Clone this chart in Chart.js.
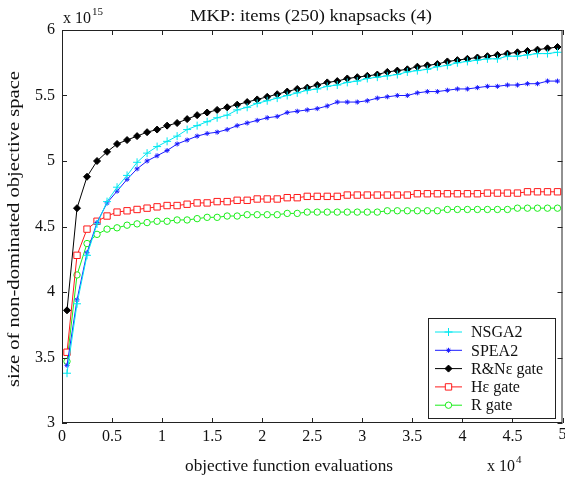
<!DOCTYPE html>
<html>
<head>
<meta charset="utf-8">
<script src="https://cdn.jsdelivr.net/npm/chart.js@4.4.0/dist/chart.umd.min.js"></script>
<style>
  html, body { margin: 0; background: #fff; overflow: hidden; }
  #wrap { width: 565px; height: 482px; overflow: hidden; }
</style>
</head>
<body>
<div id="wrap"><canvas id="myChart" width="568" height="482"></canvas></div>
<script>
// DATA (x in units of 10^4 evaluations, y in units of 10^15)
const evals = [0.05, 0.15, 0.25, 0.35, 0.45, 0.55, 0.65, 0.75, 0.85, 0.95,
    1.05, 1.15, 1.25, 1.35, 1.45, 1.55, 1.65, 1.75, 1.85, 1.95,
    2.05, 2.15, 2.25, 2.35, 2.45, 2.55, 2.65, 2.75, 2.85, 2.95,
    3.05, 3.15, 3.25, 3.35, 3.45, 3.55, 3.65, 3.75, 3.85, 3.95,
    4.05, 4.15, 4.25, 4.35, 4.45, 4.55, 4.65, 4.75, 4.85, 4.95];
const nsga2 = [3.38, 3.91, 4.28, 4.52, 4.69, 4.80, 4.89, 4.99, 5.06, 5.11,
    5.15, 5.19, 5.24, 5.27, 5.30, 5.33, 5.35, 5.39, 5.41, 5.44,
    5.46, 5.48, 5.50, 5.52, 5.54, 5.55, 5.57, 5.58, 5.60, 5.61,
    5.63, 5.64, 5.65, 5.66, 5.68, 5.69, 5.70, 5.72, 5.73, 5.75,
    5.76, 5.77, 5.78, 5.78, 5.80, 5.80, 5.81, 5.82, 5.82, 5.83];
const spea2 = [3.44, 3.94, 4.30, 4.53, 4.68, 4.77, 4.86, 4.94, 5.00, 5.04,
    5.08, 5.13, 5.16, 5.19, 5.21, 5.22, 5.24, 5.27, 5.29, 5.31,
    5.33, 5.34, 5.37, 5.38, 5.39, 5.40, 5.42, 5.45, 5.45, 5.45,
    5.46, 5.48, 5.49, 5.50, 5.50, 5.52, 5.53, 5.53, 5.54, 5.55,
    5.55, 5.56, 5.57, 5.57, 5.58, 5.58, 5.59, 5.59, 5.61, 5.61];
const rneGate = [3.86, 4.64, 4.88, 5.00, 5.07, 5.13, 5.16, 5.19, 5.22, 5.24,
    5.27, 5.29, 5.32, 5.35, 5.37, 5.39, 5.41, 5.43, 5.45, 5.47,
    5.49, 5.51, 5.53, 5.55, 5.56, 5.58, 5.60, 5.61, 5.63, 5.64,
    5.65, 5.66, 5.68, 5.69, 5.70, 5.72, 5.73, 5.74, 5.76, 5.77,
    5.78, 5.79, 5.80, 5.81, 5.82, 5.83, 5.84, 5.85, 5.86, 5.87];
const heGate = [3.54, 4.28, 4.48, 4.54, 4.58, 4.61, 4.62, 4.63, 4.64, 4.65,
    4.66, 4.66, 4.67, 4.68, 4.68, 4.69, 4.69, 4.70, 4.70, 4.71,
    4.71, 4.71, 4.72, 4.72, 4.73, 4.73, 4.73, 4.73, 4.74, 4.74,
    4.74, 4.74, 4.74, 4.74, 4.74, 4.75, 4.75, 4.75, 4.75, 4.75,
    4.75, 4.75, 4.755, 4.755, 4.755, 4.755, 4.765, 4.765, 4.765, 4.765];
const rGate = [3.47, 4.13, 4.37, 4.44, 4.48, 4.49, 4.51, 4.52, 4.53, 4.54,
    4.54, 4.55, 4.55, 4.56, 4.57, 4.57, 4.58, 4.58, 4.59, 4.59,
    4.59, 4.59, 4.60, 4.60, 4.61, 4.61, 4.61, 4.61, 4.61, 4.61,
    4.61, 4.61, 4.62, 4.62, 4.62, 4.62, 4.62, 4.62, 4.63, 4.63,
    4.63, 4.63, 4.63, 4.63, 4.63, 4.64, 4.64, 4.64, 4.64, 4.64];
const xTickValues = [0, 0.5, 1, 1.5, 2, 2.5, 3, 3.5, 4, 4.5, 5];
const yTickValues = [3, 3.5, 4, 4.5, 5, 5.5, 6];

const FONT = "'Liberation Serif', 'Times New Roman', serif";

function series(label, values, color, style, radius, fill) {
    return {
        label: label,
        data: evals.map((x, i) => ({ x: x, y: values[i] })),
        borderColor: color,
        backgroundColor: color,
        borderWidth: 1,
        pointStyle: style,
        pointRadius: radius,
        pointBorderWidth: 1,
        pointBorderColor: color,
        pointBackgroundColor: fill,
        tension: 0
    };
}

const datasets = [
    series('NSGA2', nsga2, '#00e8f0', 'cross', 4, '#00e8f0'),
    series('SPEA2', spea2, '#1a1aff', 'star', 2.5, '#1a1aff'),
    series('R&N\u03b5 gate', rneGate, '#000000', 'rectRot', 3.5, '#000000'),
    series('H\u03b5 gate', heGate, '#ff1a1a', 'rect', 4.5, '#ffffff'),
    series('R gate', rGate, '#1aee1a', 'circle', 3.2, '#ffffff')
];

const lastX = xTickValues[xTickValues.length - 1];

// text stretched along its own direction to a given length
function stretchedText(ctx, text, x, y, len) {
    const w = ctx.measureText(text).width;
    ctx.save();
    ctx.translate(x, y);
    ctx.scale(len / w, 1);
    ctx.textAlign = 'center';
    ctx.fillText(text, 0, 0);
    ctx.restore();
}

// frame with inward ticks on all four sides, texts and the legend box
const decorations = {
    id: 'decorations',
    afterDraw(chart) {
        const { ctx, chartArea: a, scales } = chart;
        const tl = 5;
        ctx.save();
        ctx.strokeStyle = '#222';
        ctx.lineWidth = 1;
        ctx.strokeRect(a.left + 0.5, a.top + 0.5, a.right - a.left - 1, a.bottom - a.top - 1);
        ctx.beginPath();
        xTickValues.forEach(v => {
            const px = Math.round(scales.x.getPixelForValue(v)) + 0.5;
            ctx.moveTo(px, a.bottom); ctx.lineTo(px, a.bottom - tl);
            ctx.moveTo(px, a.top); ctx.lineTo(px, a.top + tl);
        });
        yTickValues.forEach(v => {
            const py = Math.round(scales.y.getPixelForValue(v)) + 0.5;
            ctx.moveTo(a.left, py); ctx.lineTo(a.left + tl, py);
            ctx.moveTo(a.right, py); ctx.lineTo(a.right - tl, py);
        });
        ctx.stroke();

        // texts
        ctx.fillStyle = '#111';
        // last x tick label, drawn here so the axis does not reserve room for it
        ctx.font = '16px ' + FONT;
        ctx.textAlign = 'center';
        ctx.textBaseline = 'top';
        ctx.fillText(String(lastX), scales.x.getPixelForValue(lastX), scales.x.top + 4);

        ctx.textBaseline = 'alphabetic';
        ctx.font = '17px ' + FONT;
        stretchedText(ctx, 'MKP: items (250) knapsacks (4)', 311, 21, 242);

        ctx.font = '16px ' + FONT;
        ctx.textAlign = 'left';
        ctx.fillText('x 10', 63, 23);
        let w = ctx.measureText('x 10').width;
        ctx.font = '11px ' + FONT;
        ctx.fillText('15', 63 + w + 1, 15);

        ctx.font = '17px ' + FONT;
        stretchedText(ctx, 'objective function evaluations', 289, 471, 208);
        ctx.font = '16px ' + FONT;
        ctx.textAlign = 'left';
        ctx.fillText('x 10', 487, 471);
        w = ctx.measureText('x 10').width;
        ctx.font = '11px ' + FONT;
        ctx.fillText('4', 487 + w + 1, 463);

        ctx.font = '17px ' + FONT;
        ctx.translate(19, 229);
        ctx.rotate(-Math.PI / 2);
        stretchedText(ctx, 'size of non-dominated objective space', 0, 0, 316);
        ctx.restore();

        // legend
        ctx.save();
        const lx = 428, ly = 318, lw = 127, lh = 100;
        ctx.fillStyle = '#fff';
        ctx.fillRect(lx, ly, lw, lh);
        ctx.strokeStyle = '#222';
        ctx.lineWidth = 1;
        ctx.strokeRect(lx + 0.5, ly + 0.5, lw, lh);
        chart.data.datasets.forEach((ds, i) => {
            const cy = ly + 14 + i * 18.3;
            ctx.strokeStyle = ds.borderColor;
            ctx.lineWidth = 1;
            ctx.beginPath();
            ctx.moveTo(435, cy); ctx.lineTo(462, cy);
            ctx.stroke();
            ctx.fillStyle = ds.pointBackgroundColor;
            ctx.strokeStyle = ds.pointBorderColor;
            Chart.helpers.drawPoint(ctx, {
                pointStyle: ds.pointStyle,
                radius: ds.pointRadius,
                rotation: 0,
                borderWidth: 1
            }, 448.5, cy);
            ctx.fillStyle = '#111';
            ctx.font = '16px ' + FONT;
            ctx.textAlign = 'left';
            ctx.textBaseline = 'middle';
            ctx.fillText(ds.label, 471, cy + 1);
        });
        ctx.restore();
    }
};

const config = {
    type: 'line',
    data: { datasets: datasets },
    options: {
        responsive: false,
        animation: false,
        layout: { padding: { top: 30, right: 0, left: 0, bottom: 0 } },
        plugins: {
            legend: { display: false },
            tooltip: { enabled: false },
            title: { display: false }
        },
        scales: {
            x: {
                type: 'linear',
                min: 0,
                max: 5,
                grid: { display: false, drawTicks: false },
                border: { display: false },
                afterBuildTicks: scale => { scale.ticks = xTickValues.map(v => ({ value: v })); },
                afterFit: scale => { scale.height = 59; },
                ticks: {
                    color: '#111',
                    padding: 4,
                    maxRotation: 0,
                    autoSkip: false,
                    font: { family: FONT, size: 16 },
                    callback: v => (v === lastX ? '' : String(v))
                }
            },
            y: {
                min: 3,
                max: 6,
                grid: { display: false, drawTicks: false },
                border: { display: false },
                afterBuildTicks: scale => { scale.ticks = yTickValues.map(v => ({ value: v })); },
                afterFit: scale => { scale.width = 62; },
                ticks: {
                    color: '#111',
                    padding: 7,
                    autoSkip: false,
                    font: { family: FONT, size: 16 },
                    callback: v => String(v)
                }
            }
        }
    },
    plugins: [decorations]
};

function initChart() {
    const canvas = document.getElementById('myChart');
    new Chart(canvas.getContext('2d'), config);
}

if (document.readyState === 'loading') {
    document.addEventListener('DOMContentLoaded', initChart);
} else {
    initChart();
}
</script>
</body>
</html>
